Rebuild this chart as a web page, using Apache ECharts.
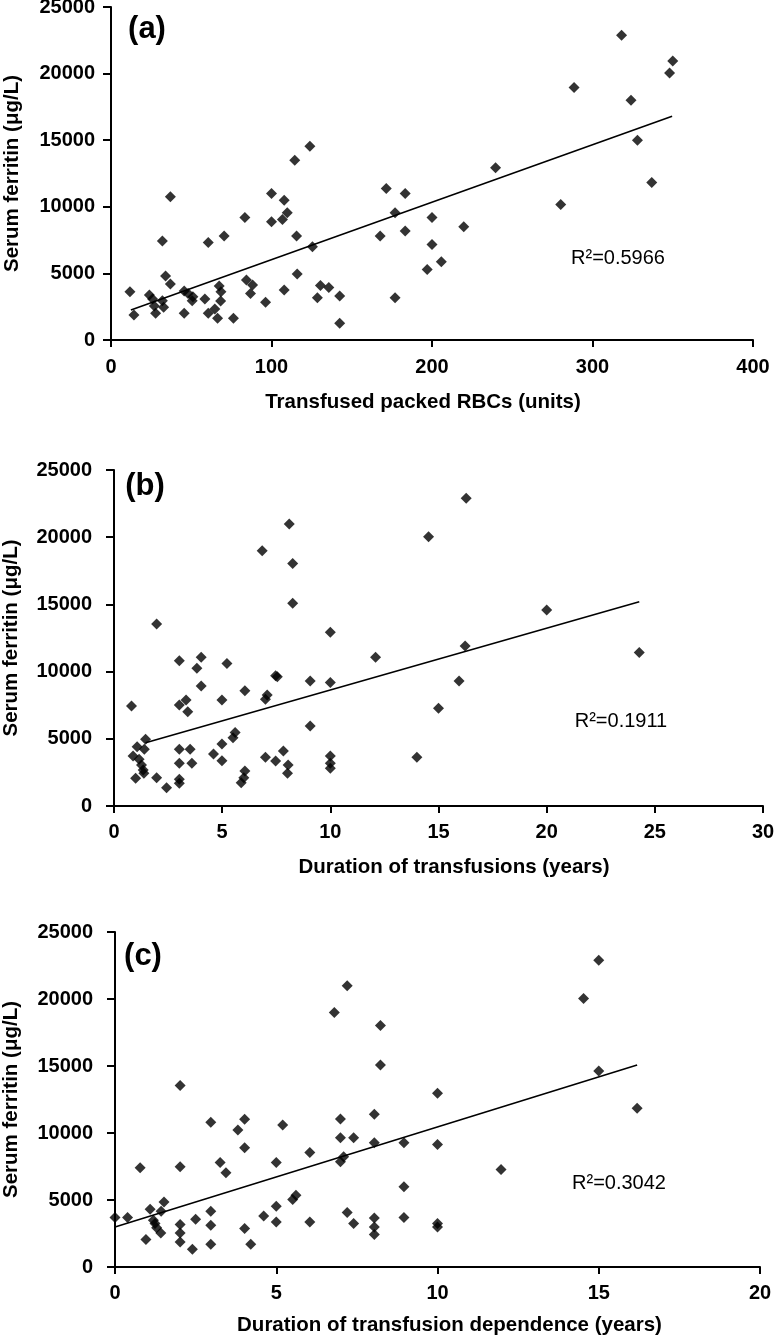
<!DOCTYPE html>
<html>
<head>
<meta charset="utf-8">
<script src="https://cdn.jsdelivr.net/npm/echarts@6/dist/echarts.min.js"></script>
<style>
  html, body { margin: 0; padding: 0; background: #fff; }
  #chart { width: 774px; height: 1336px; }
</style>
</head>
<body>
<div id="chart"></div>
<script>
// ---------- Data ----------
// (a) Transfused packed RBCs (units) vs serum ferritin
var aX = [11.8,14.3,23.9,25.9,27.0,27.8,32.0,32.8,32.0,34.0,37.0,37.0,45.6,45.6,48.0,50.6,51.0,58.5,60.6,60.6,64.7,66.4,67.4,68.5,68.3,70.5,76.3,83.4,84.4,86.9,88.2,96.3,100,100,106.8,107.9,109.8,107.9,114.5,115.6,116,123.9,125.5,128.6,130.5,135.7,142.5,142.5,167.7,171.5,177,177,183.3,183.3,197,200,200,205.8,219.8,239.6,280.2,288.5,318.1,324,328,336.9,348,350];
var aY = [3625,1875,3375,3075,2550,2000,2950,2450,7425,4800,4200,10750,2000,3675,3500,2950,3250,3075,7325,2000,2325,1625,4050,3625,2925,7800,1625,9200,4500,3500,4125,2825,11000,8875,9050,10500,9550,3750,13500,7800,4950,14550,7000,3175,4100,3950,3300,1250,7800,11375,9550,3175,11000,8175,5300,9200,7175,5875,8500,12925,10175,18950,22875,18000,15000,11825,20050,20950];
var aTrendX = [12.4, 349.6];
var aTrendY = [2250, 16800];
var aR2 = 'R\u00B2=0.5966';

// (b) Duration of transfusions (years) vs serum ferritin
var bX = [0.81,0.88,1.0,1.07,1.16,1.27,1.35,1.38,1.4,1.46,1.97,1.97,2.43,3.02,3.02,3.02,3.02,3.02,3.02,3.33,3.41,3.52,3.6,3.83,4.03,4.03,4.6,4.99,4.99,4.99,5.22,5.5,5.6,6.05,6.05,6.0,5.88,6.85,7.0,7.08,7.0,7.47,7.55,7.47,7.83,8.1,8.26,8.26,8.05,8.02,9.07,9.07,10.0,10.0,10.0,10.0,10.0,12.09,14.0,14.54,15.0,15.95,16.23,16.28,20.0,24.28];
var bY = [7440,3720,2060,4415,3470,3050,2680,2430,4215,4960,13540,2110,1360,10810,7515,4215,3175,1985,1690,7890,7020,4215,3175,10240,11060,8930,3870,7890,4610,3370,10610,5080,5460,8580,2600,2110,1735,19000,7940,8260,3620,9700,9620,3350,4090,20980,18050,15080,3050,2430,9300,5950,12920,9180,3720,3175,2800,11060,3620,20040,7270,9300,11900,22890,14580,11430];
var bTrendX = [1.46, 24.28];
var bTrendY = [4710, 15200];
var bR2 = 'R\u00B2=0.1911';

// (c) Duration of transfusion dependence (years) vs serum ferritin
var cX = [0,0.39,0.78,0.96,1.09,1.19,1.24,1.29,1.42,1.43,1.52,2.02,2.02,2.02,2.02,2.02,2.4,2.5,2.97,2.97,2.97,2.97,3.26,3.44,3.81,4.02,4.02,4.02,4.21,4.61,5.0,5.0,5.0,5.2,5.51,5.61,6.04,6.04,6.8,6.99,6.99,6.99,7.09,7.2,7.2,7.4,7.4,8.23,8.23,8.04,8.04,8.04,8.04,8.04,8.96,8.96,8.96,10.0,10.0,10.0,10.0,11.97,14.53,15.0,15.0,16.19];
var cY = [3690,3690,7400,2045,4310,3490,3240,2920,2540,4160,4860,13540,7480,3170,2540,1870,1320,3565,10795,4160,3115,1695,7800,7030,10220,11020,8900,2870,1695,3815,7800,4540,3365,10595,5035,5360,8550,3365,19000,11045,9650,7850,8225,20990,4065,9650,3240,18025,15080,11390,9275,3665,2990,2420,9275,5980,3690,12960,9150,3240,2990,7280,20040,22890,14630,11840];
var cTrendX = [0, 16.19];
var cTrendY = [2990, 15080];
var cR2 = 'R\u00B2=0.3042';

// Axis texts
var panelLabels = ['(a)', '(b)', '(c)'];
var xNames = ['Transfused packed RBCs (units)', 'Duration of transfusions (years)', 'Duration of transfusion dependence (years)'];
var yName = 'Serum ferritin (\u03BCg/L)';
var xMax = [400, 30, 20];
var xInterval = [100, 5, 5];
var yMin = 0, yMax = 25000, yInterval = 5000;

// ---------- Build ----------
function zip(xs, ys) { return xs.map(function (x, i) { return [x, ys[i]]; }); }
function plain(v) { return String(v); }

var FONT = 'Liberation Sans, Arial, Helvetica, sans-serif';
var grids = [
  { left: 111, width: 642, top: 7, height: 333, outerBoundsMode: 'none', containLabel: false },
  { left: 114, width: 649, top: 470, height: 336, outerBoundsMode: 'none', containLabel: false },
  { left: 115, width: 645, top: 932, height: 335, outerBoundsMode: 'none', containLabel: false }
];
var yLabelMargin = [16, 22, 22];
var yNameGap = [88, 92, 93];
var xNamePad = [[0, 18, 0, 0], [0, 0, 0, 31], [0, 0, 0, 24]];
var xLabelMargin = [17, 16, 16];
var xNameGap = [52, 51, 48];

var axisLineStyle = { color: '#000', width: 2 };

var xAxes = [], yAxes = [], series = [];
var sets = [[aX, aY, aTrendX, aTrendY], [bX, bY, bTrendX, bTrendY], [cX, cY, cTrendX, cTrendY]];

for (var i = 0; i < 3; i++) {
  xAxes.push({
    gridIndex: i, type: 'value', min: 0, max: xMax[i], interval: xInterval[i],
    name: xNames[i], nameLocation: 'middle', nameGap: xNameGap[i],
    nameTextStyle: { fontFamily: FONT, fontWeight: 'bold', fontSize: 20.5, color: '#000', padding: xNamePad[i] },
    axisLine: { show: true, onZero: false, lineStyle: axisLineStyle },
    axisTick: { show: true, inside: false, length: 7, lineStyle: axisLineStyle },
    axisLabel: { fontFamily: FONT, fontWeight: 'bold', fontSize: 20, color: '#000', margin: xLabelMargin[i], formatter: plain },
    splitLine: { show: false }
  });
  yAxes.push({
    gridIndex: i, type: 'value', min: yMin, max: yMax, interval: yInterval,
    name: yName, nameLocation: 'middle', nameGap: yNameGap[i], nameRotate: 90,
    nameTextStyle: { fontFamily: FONT, fontWeight: 'bold', fontSize: 20.5, color: '#000' },
    axisLine: { show: true, onZero: false, lineStyle: axisLineStyle },
    axisTick: { show: true, inside: false, length: 8, lineStyle: axisLineStyle },
    axisLabel: { fontFamily: FONT, fontWeight: 'bold', fontSize: 20, color: '#000', margin: yLabelMargin[i], formatter: plain },
    splitLine: { show: false }
  });
  series.push({
    type: 'scatter', xAxisIndex: i, yAxisIndex: i,
    symbol: 'diamond', symbolSize: 11,
    itemStyle: { color: '#000' },
    data: zip(sets[i][0], sets[i][1]),
    silent: true, animation: false
  });
  series.push({
    type: 'line', xAxisIndex: i, yAxisIndex: i,
    showSymbol: false, symbol: 'none',
    lineStyle: { color: '#000', width: 1.6 },
    data: zip(sets[i][2], sets[i][3]),
    silent: true, animation: false
  });
}

var panelPos = [[147, 29], [145, 486], [143, 956]];
var r2Pos = [[618, 258], [621, 721], [619, 1183]];
var r2Texts = [aR2, bR2, cR2];
var graphics = [];
for (var j = 0; j < 3; j++) {
  graphics.push({
    type: 'text', x: panelPos[j][0], y: panelPos[j][1], silent: true,
    style: { text: panelLabels[j], font: 'bold 31px ' + FONT, fill: '#000', align: 'center', verticalAlign: 'middle' }
  });
  graphics.push({
    type: 'text', x: r2Pos[j][0], y: r2Pos[j][1], silent: true,
    style: { text: r2Texts[j], font: '20px ' + FONT, fill: '#000', align: 'center', verticalAlign: 'middle' }
  });
}

var chart = echarts.init(document.getElementById('chart'), null, { renderer: 'canvas' });
chart.setOption({
  animation: false,
  backgroundColor: '#fff',
  grid: grids,
  xAxis: xAxes,
  yAxis: yAxes,
  series: series,
  graphic: graphics
});
</script>
</body>
</html>
